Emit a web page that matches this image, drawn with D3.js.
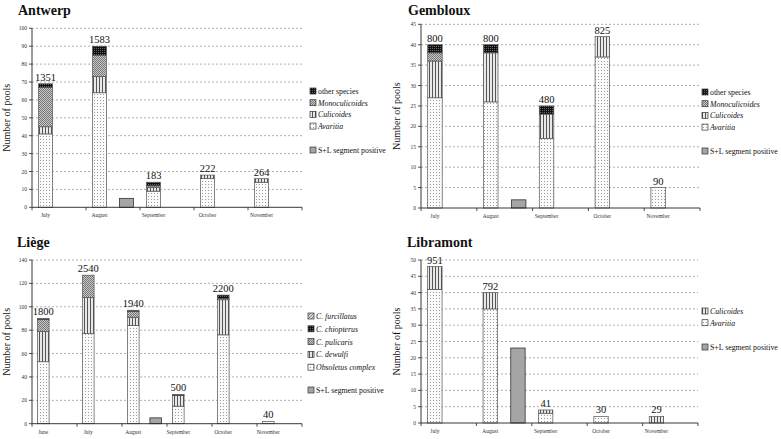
<!DOCTYPE html>
<html>
<head>
<meta charset="utf-8">
<script src="https://cdn.jsdelivr.net/npm/d3@7"></script>
<style>
html,body{margin:0;padding:0;background:#fff;}
svg, svg text{font-family:'Liberation Serif','DejaVu Serif','Times New Roman',serif;}
</style>
</head>
<body>
<svg id="chart" width="781" height="439"></svg>
<script>
// ---------- DATA ----------
const antwerpMonths = ["July","August","September","October","November"];
const antwerpAvaritia = [41,64,9,16,14];
const antwerpCulicoides = [4,9,2,2,2];
const antwerpMonoculicoides = [22,12,1,0,0];
const antwerpOther = [2,5,2,0,0];
const antwerpSL = [0,5,0,0,0];
const antwerpTotals = ["1351","1583","183","222","264"];

const gemblouxMonths = ["July","August","September","October","November"];
const gemblouxAvaritia = [27,26,17,37,5];
const gemblouxCulicoides = [9,12,6,5,0];
const gemblouxMonoculicoides = [2,0,0,0,0];
const gemblouxOther = [2,2,2,0,0];
const gemblouxSL = [0,2,0,0,0];
const gemblouxTotals = ["800","800","480","825","90"];

const liegeMonths = ["June","July","August","September","October","November"];
const liegeObsoletus = [53,77,84,15,76,2];
const liegeDewulfi = [26,31,7,9,30,0];
const liegePulicaris = [10,19,5,0,1,0];
const liegeChiopterus = [1,0,1,1,3,0];
const liegeFurcillatus = [0,0,0,0,0,0];
const liegeSL = [0,0,5,0,0,0];
const liegeTotals = ["1800","2540","1940","500","2200","40"];

const libramontMonths = ["July","August","September","October","November"];
const libramontAvaritia = [41,35,3,2,0];
const libramontCulicoides = [7,5,1,0,2];
const libramontSL = [0,23,0,0,0];
const libramontTotals = ["951","792","41","30","29"];

const slLabel = "S+L segment positive";

// ---------- PATTERNS ----------
const FONT = "'Liberation Serif','DejaVu Serif',serif";
const svg = d3.select("#chart").attr("font-family", FONT);
const defs = svg.append("defs");
function pat(id, w, h, draw){
  const p = defs.append("pattern").attr("id", id).attr("patternUnits","userSpaceOnUse")
    .attr("width", w).attr("height", h);
  draw(p);
}
pat("dots",3,3,p=>{
  p.append("rect").attr("width",3).attr("height",3).attr("fill","#fbfbfb");
  p.append("rect").attr("x",1).attr("y",1).attr("width",1).attr("height",1).attr("fill","#9a9a9a");
});
pat("vstripe",3,3,p=>{
  p.append("rect").attr("width",3).attr("height",3).attr("fill","#e8e8e8");
  p.append("rect").attr("x",0).attr("width",1).attr("height",3).attr("fill","#555");
});
pat("checker",2,2,p=>{
  p.append("rect").attr("width",2).attr("height",2).attr("fill","#c8c8c8");
  p.append("rect").attr("width",1).attr("height",1).attr("fill","#777");
  p.append("rect").attr("x",1).attr("y",1).attr("width",1).attr("height",1).attr("fill","#777");
});
pat("blackcheck",2,2,p=>{
  p.append("rect").attr("width",2).attr("height",2).attr("fill","#111");
  p.append("rect").attr("width",1).attr("height",1).attr("fill","#666");
});
pat("diag",3,3,p=>{
  p.append("rect").attr("width",3).attr("height",3).attr("fill","#ddd");
  p.append("path").attr("d","M0,3L3,0").attr("stroke","#666").attr("stroke-width",0.8);
});

// ---------- PANEL ----------
function drawPanel(cfg){
  const g = svg.append("g").attr("font-family", FONT);
  const x = d3.scaleBand().domain(cfg.months).range([cfg.x0, cfg.x1]).paddingInner(0).paddingOuter(0);
  const inner = d3.scaleBand().domain(["stack","sl"]).range([0, x.bandwidth()]).paddingInner(0.48).paddingOuter(0.24);
  const y = d3.scaleLinear().domain([0, cfg.yMax]).range([cfg.yBottom, cfg.yTop]);
  const ticks = d3.range(0, cfg.yMax + cfg.yStep/2, cfg.yStep);

  g.append("g").selectAll("line").data(ticks.filter(t=>t>0)).join("line")
    .attr("x1", cfg.x0).attr("x2", cfg.x1)
    .attr("y1", d=>y(d)).attr("y2", d=>y(d))
    .attr("stroke","#9a9a9a").attr("stroke-width",0.8).attr("stroke-dasharray","2,2");

  g.append("text").attr("x", cfg.titleX).attr("y", cfg.titleY)
    .attr("font-size", 14).attr("font-weight","bold").attr("fill","#111").text(cfg.title);

  g.append("text").attr("transform", `translate(${cfg.ylabelX},${(cfg.yTop+cfg.yBottom)/2}) rotate(-90)`)
    .attr("text-anchor","middle").attr("font-size",10).attr("fill","#111").text("Number of pools");

  const keys = cfg.series.map(s=>s.name);
  const rows = cfg.months.map((m,i)=>{
    const r = {month:m};
    cfg.series.forEach(s=>{ r[s.name] = s.values[i]; });
    return r;
  });
  const stack = d3.stack().keys(keys)(rows);
  stack.forEach((layer, li)=>{
    const s = cfg.series[li];
    g.append("g").selectAll("rect").data(layer.filter(d=>d[1]-d[0]>0)).join("rect")
      .attr("x", d=>x(d.data.month)+inner("stack"))
      .attr("width", inner.bandwidth())
      .attr("y", d=>y(d[1]))
      .attr("height", d=>y(d[0])-y(d[1]))
      .attr("fill", `url(#${s.pattern})`)
      .attr("stroke","#555").attr("stroke-width",0.7);
  });

  g.append("g").selectAll("rect").data(cfg.months.map((m,i)=>({m, v:cfg.sl[i]})).filter(d=>d.v>0)).join("rect")
    .attr("x", d=>x(d.m)+inner("sl")).attr("width", inner.bandwidth())
    .attr("y", d=>y(d.v)).attr("height", d=>y(0)-y(d.v))
    .attr("fill","#a5a5a5").attr("stroke","#333").attr("stroke-width",0.8);

  const tops = cfg.months.map((m,i)=>d3.sum(cfg.series, s=>s.values[i]));
  g.append("g").selectAll("text").data(cfg.months).join("text")
    .attr("x", d=>x(d)+inner("stack")+inner.bandwidth()/2)
    .attr("y", (d,i)=>y(tops[i])-3)
    .attr("text-anchor","middle").attr("font-size",10.5).attr("fill","#111")
    .text((d,i)=>cfg.totals[i]);

  g.append("line").attr("x1",cfg.x0).attr("x2",cfg.x0).attr("y1",cfg.yTop).attr("y2",cfg.yBottom)
    .attr("stroke","#222").attr("stroke-width",0.9);
  g.append("line").attr("x1",cfg.x0).attr("x2",cfg.x1).attr("y1",cfg.yBottom).attr("y2",cfg.yBottom)
    .attr("stroke","#222").attr("stroke-width",0.9);
  g.append("g").selectAll("line").data(ticks).join("line")
    .attr("x1",cfg.x0-3).attr("x2",cfg.x0).attr("y1",d=>y(d)).attr("y2",d=>y(d))
    .attr("stroke","#222").attr("stroke-width",0.8);
  g.append("g").selectAll("text").data(ticks).join("text")
    .attr("x",cfg.x0-5).attr("y",d=>y(d)+2).attr("text-anchor","end")
    .attr("font-size",5.5).attr("fill","#333").text(d=>d);
  const bounds = cfg.months.map(m=>x(m)).concat([cfg.x1]);
  g.append("g").selectAll("line").data(bounds).join("line")
    .attr("x1",d=>d).attr("x2",d=>d).attr("y1",cfg.yBottom).attr("y2",cfg.yBottom+3)
    .attr("stroke","#222").attr("stroke-width",0.8);
  g.append("g").selectAll("text").data(cfg.months).join("text")
    .attr("x", d=>x(d)+inner("stack")+inner.bandwidth()/2).attr("y", cfg.yBottom+10)
    .attr("text-anchor","middle").attr("font-size",5.5).attr("fill","#333").text(d=>d);

  const leg = cfg.series.slice().reverse();
  leg.forEach((s,i)=>{
    const ly = cfg.legendY + i*cfg.legendStep;
    g.append("rect").attr("x",cfg.legendX).attr("y",ly-5).attr("width",6).attr("height",6)
      .attr("fill",`url(#${s.pattern})`).attr("stroke","#333").attr("stroke-width",0.7);
    g.append("text").attr("x",cfg.legendX+8).attr("y",ly+1).attr("font-size",7.8).attr("fill","#111")
      .attr("font-style", s.italic ? "italic" : "normal").text(s.name);
  });
  g.append("rect").attr("x",cfg.legendX).attr("y",cfg.slLegendY-5).attr("width",6).attr("height",6)
    .attr("fill","#a5a5a5").attr("stroke","#333").attr("stroke-width",0.7);
  g.append("text").attr("x",cfg.legendX+8).attr("y",cfg.slLegendY+1).attr("font-size",7.8).attr("fill","#111").text(slLabel);
}

drawPanel({
  title:"Antwerp", titleX:18, titleY:15, x0:32, x1:302, yTop:28.3, yBottom:207.3, yMax:100, yStep:10,
  ylabelX:10, months:antwerpMonths, sl:antwerpSL, totals:antwerpTotals,
  series:[
    {name:"Avaritia", italic:true, values:antwerpAvaritia, pattern:"dots"},
    {name:"Culicoides", italic:true, values:antwerpCulicoides, pattern:"vstripe"},
    {name:"Monoculicoides", italic:true, values:antwerpMonoculicoides, pattern:"checker"},
    {name:"other species", italic:false, values:antwerpOther, pattern:"blackcheck"}
  ],
  legendX:310, legendY:93, legendStep:11.7, slLegendY:152
});
drawPanel({
  title:"Gembloux", titleX:408, titleY:15, x0:421, x1:700, yTop:24.3, yBottom:208, yMax:45, yStep:5,
  ylabelX:400, months:gemblouxMonths, sl:gemblouxSL, totals:gemblouxTotals,
  series:[
    {name:"Avaritia", italic:true, values:gemblouxAvaritia, pattern:"dots"},
    {name:"Culicoides", italic:true, values:gemblouxCulicoides, pattern:"vstripe"},
    {name:"Monoculicoides", italic:true, values:gemblouxMonoculicoides, pattern:"checker"},
    {name:"other species", italic:false, values:gemblouxOther, pattern:"blackcheck"}
  ],
  legendX:702, legendY:94, legendStep:11.7, slLegendY:153
});
drawPanel({
  title:"Liège", titleX:17, titleY:247, x0:32, x1:302, yTop:260, yBottom:423.7, yMax:140, yStep:20,
  ylabelX:10, months:liegeMonths, sl:liegeSL, totals:liegeTotals,
  series:[
    {name:"Obsoletus complex", italic:true, values:liegeObsoletus, pattern:"dots"},
    {name:"C. dewulfi", italic:true, values:liegeDewulfi, pattern:"vstripe"},
    {name:"C. pulicaris", italic:true, values:liegePulicaris, pattern:"checker"},
    {name:"C. chiopterus", italic:true, values:liegeChiopterus, pattern:"blackcheck"},
    {name:"C. furcillatus", italic:true, values:liegeFurcillatus, pattern:"diag"}
  ],
  legendX:308, legendY:318, legendStep:12.8, slLegendY:392
});
drawPanel({
  title:"Libramont", titleX:407, titleY:247, x0:421, x1:698, yTop:260, yBottom:423, yMax:50, yStep:5,
  ylabelX:400, months:libramontMonths, sl:libramontSL, totals:libramontTotals,
  series:[
    {name:"Avaritia", italic:true, values:libramontAvaritia, pattern:"dots"},
    {name:"Culicoides", italic:true, values:libramontCulicoides, pattern:"vstripe"}
  ],
  legendX:702, legendY:313, legendStep:11.7, slLegendY:349
});
</script>
</body>
</html>
